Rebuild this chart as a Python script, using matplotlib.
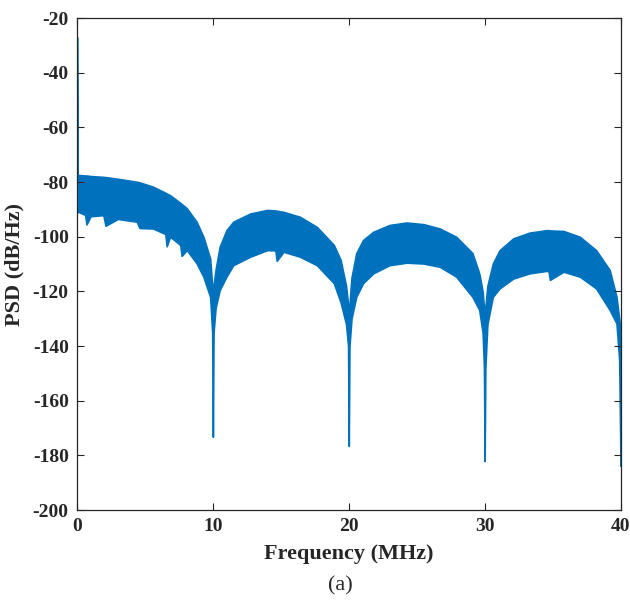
import numpy as np
import matplotlib
matplotlib.use("Agg")
import matplotlib.pyplot as plt

# PSD envelope (MHz, dB/Hz)
freq_mhz = [0.0, 0.05, 0.1, 0.6, 0.7, 1.0, 1.94, 2.1, 3.0, 4.4, 4.6, 5.6, 6.5, 6.6, 6.85, 7.6,
            7.7, 8.08, 8.8, 9.3, 9.8, 9.95, 10.0,
            10.05, 10.2, 10.5, 11.0, 11.5, 12.75, 14.0, 14.6, 14.7, 15.2, 16.4, 17.65, 18.9,
            19.4, 19.8, 19.95, 20.0, 20.05, 20.2, 20.55, 21.05, 21.8, 23.0, 24.25, 25.5, 26.7,
            27.9, 29.1, 29.6, 29.85, 29.95, 30.0, 30.05, 30.2, 30.6, 31.1, 32.1, 33.3, 34.55,
            34.7, 34.8, 35.8, 37.0, 38.2, 39.2, 39.7, 39.9, 40.0]
psd_upper = [-27.0, -77.5, -77.4, -77.6, -77.6, -77.8, -78.1, -78.2, -78.8, -79.9, -80.1, -81.7,
             -83.9, -84.2, -84.8, -87.6, -88.0, -89.6, -94.5, -100.0, -108.0, -118.0, -121.0,
             -118.0, -112.0, -103.7, -97.6, -94.5, -91.5, -90.2, -90.4, -90.5, -90.9, -92.7,
             -96.4, -103.0, -108.5, -118.0, -125.0, -128.0, -125.0, -115.0, -106.0, -101.2,
             -98.2, -95.7, -94.8, -95.4, -97.0, -100.0, -106.0, -113.4, -120.0, -126.0, -130.0,
             -126.0, -118.0, -109.8, -104.9, -100.6, -98.5, -97.6, -97.6, -97.7, -97.9,
             -100.0, -104.9, -112.2, -122.0, -130.0, -135.0]
psd_lower = [-90.9, -91.0, -90.9, -92.0, -95.5, -92.5, -92.1, -96.0, -93.5, -94.5, -96.8, -97.0,
             -99.0, -103.5, -100.0, -103.0, -107.0, -104.9, -109.7, -114.6, -122.0, -135.0,
             -173.2,
             -135.0, -126.0, -119.5, -114.6, -110.4, -107.3, -104.9, -105.0, -108.8, -105.5,
             -107.3, -110.4, -117.0, -124.0, -132.0, -140.0, -176.5, -140.0, -130.0, -122.0,
             -117.0, -113.4, -110.4, -109.5, -109.8, -111.0, -114.6, -122.0, -126.8, -135.0,
             -148.0, -182.1, -148.0, -132.0, -122.0, -118.9, -115.3, -113.4, -112.5, -112.6,
             -115.8, -112.8, -114.6, -118.9, -126.8, -131.7, -145.0, -183.8]

x_ticks = [0, 10, 20, 30, 40]
y_ticks = list(range(-200, 0, 20))

blue = "#0072BD"
plt.rcParams["font.family"] = ["Liberation Serif", "DejaVu Serif"]
plt.rcParams["axes.unicode_minus"] = False

fig = plt.figure(figsize=(6.3, 6.03), dpi=100)
ax = fig.add_axes([0.1222, 0.1542, 0.8628, 0.8158])

ax.fill_between(freq_mhz, psd_lower, psd_upper, color=blue, lw=1.2, edgecolor=blue)

ax.set_xlim(0, 40)
ax.set_ylim(-200, -20)
ax.set_xticks(x_ticks)
ax.set_yticks(y_ticks)
ax.tick_params(direction="in", top=True, right=True, length=5, width=0.8,
               labelsize=14, colors="#262626", pad=6)
for lab in ax.get_xticklabels() + ax.get_yticklabels():
    lab.set_fontweight("bold")
for sp in ax.spines.values():
    sp.set_linewidth(0.9)
    sp.set_color("#262626")

ax.set_xlabel("Frequency (MHz)", fontsize=16, fontweight="bold", color="#262626", labelpad=6)
ax.set_ylabel("PSD (dB/Hz)", fontsize=16, fontweight="bold", color="#262626", labelpad=6)
fig.text(0.5408, 1 - 586 / 603, "(a)", fontsize=16, ha="center", va="center", color="#262626")

fig.savefig("out.png", dpi=100)
